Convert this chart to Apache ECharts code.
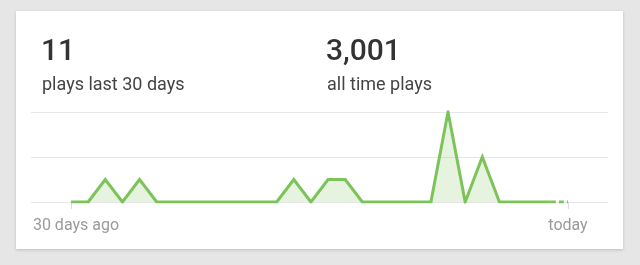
<!DOCTYPE html>
<html>
<head>
<meta charset="utf-8">
<script src="https://cdn.jsdelivr.net/npm/echarts@6/dist/echarts.min.js"></script>
<style>
  html, body { margin: 0; padding: 0; background: #e6e6e6; }
  #chart { width: 640px; height: 265px; }
</style>
</head>
<body>
<div id="chart"></div>
<script>
// Daily plays for the last 30 days (index 0 = 30 days ago, last = today)
const plays = [0,0,1,0,1,0,0,0,0,0,0,0,0,1,0,1,1,0,0,0,0,0,4,0,2,0,0,0,0,0];
const tickLabels = ['30 days ago', 'today'];
const statValues = ['11', '3,001'];
const statLabels = ['plays last 30 days', 'all time plays'];

const last = plays.length - 1;
const solidData = plays.slice(0, last).map((v, i) => [i, v]);
const dashData = [[last - 1, plays[last - 1]], [last, plays[last]]];

const green = '#7cc35a';
const areaFill = 'rgba(124,195,90,0.28)';
const font = 'Roboto';

const chart = echarts.init(document.getElementById('chart'), null, { renderer: 'canvas' });
chart.setOption({
  backgroundColor: '#e6e6e6',
  animation: false,
  graphic: [{
    type: 'rect', z: -10, silent: true,
    shape: { x: 16, y: 11, width: 607, height: 238 },
    style: { fill: '#ffffff', shadowBlur: 3, shadowColor: 'rgba(0,0,0,0.18)', shadowOffsetY: 1 }
  }],
  title: [
    { text: statValues[0], left: 41, top: 37, padding: 0, textStyle: { fontFamily: font, fontSize: 30, fontWeight: 500, color: '#333333' } },
    { text: statLabels[0], left: 42, top: 76, padding: 0, textStyle: { fontFamily: font, fontSize: 18, fontWeight: 'normal', color: '#444444' } },
    { text: statValues[1], left: 326, top: 37, padding: 0, textStyle: { fontFamily: font, fontSize: 30, fontWeight: 500, color: '#333333' } },
    { text: statLabels[1], left: 327, top: 76, padding: 0, textStyle: { fontFamily: font, fontSize: 18, fontWeight: 'normal', color: '#444444' } }
  ],
  grid: { left: 31, right: 32, top: 112, bottom: 63 },
  xAxis: {
    type: 'value',
    min: -2.334, max: last + 2.334,
    axisLine: { show: false },
    splitLine: { show: false },
    axisTick: { show: true, customValues: [0, last], length: 7, lineStyle: { color: '#dddddd' } },
    axisLabel: {
      customValues: [0, last],
      margin: 16,
      formatter: v => v === 0 ? '{a|' + tickLabels[0] + '}' : '{b|' + tickLabels[1] + '}',
      rich: {
        a: { fontFamily: font, fontSize: 16, color: '#9a9a9a', padding: [0, 0, 0, 10] },
        b: { fontFamily: font, fontSize: 16, color: '#9a9a9a' }
      }
    }
  },
  yAxis: {
    type: 'value', min: 0, max: 4, interval: 2,
    axisLine: { show: false }, axisTick: { show: false }, axisLabel: { show: false },
    splitLine: { lineStyle: { color: '#e6e6e6', width: 1 } }
  },
  series: [
    {
      type: 'line', data: solidData, symbol: 'none', z: 3,
      lineStyle: { color: green, width: 3, join: 'miter' },
      areaStyle: { color: areaFill }
    },
    {
      type: 'line', data: dashData, symbol: 'none', z: 3,
      lineStyle: { color: green, width: 3, type: [5, 3] },
      areaStyle: { color: areaFill }
    }
  ]
});
</script>
</body>
</html>
